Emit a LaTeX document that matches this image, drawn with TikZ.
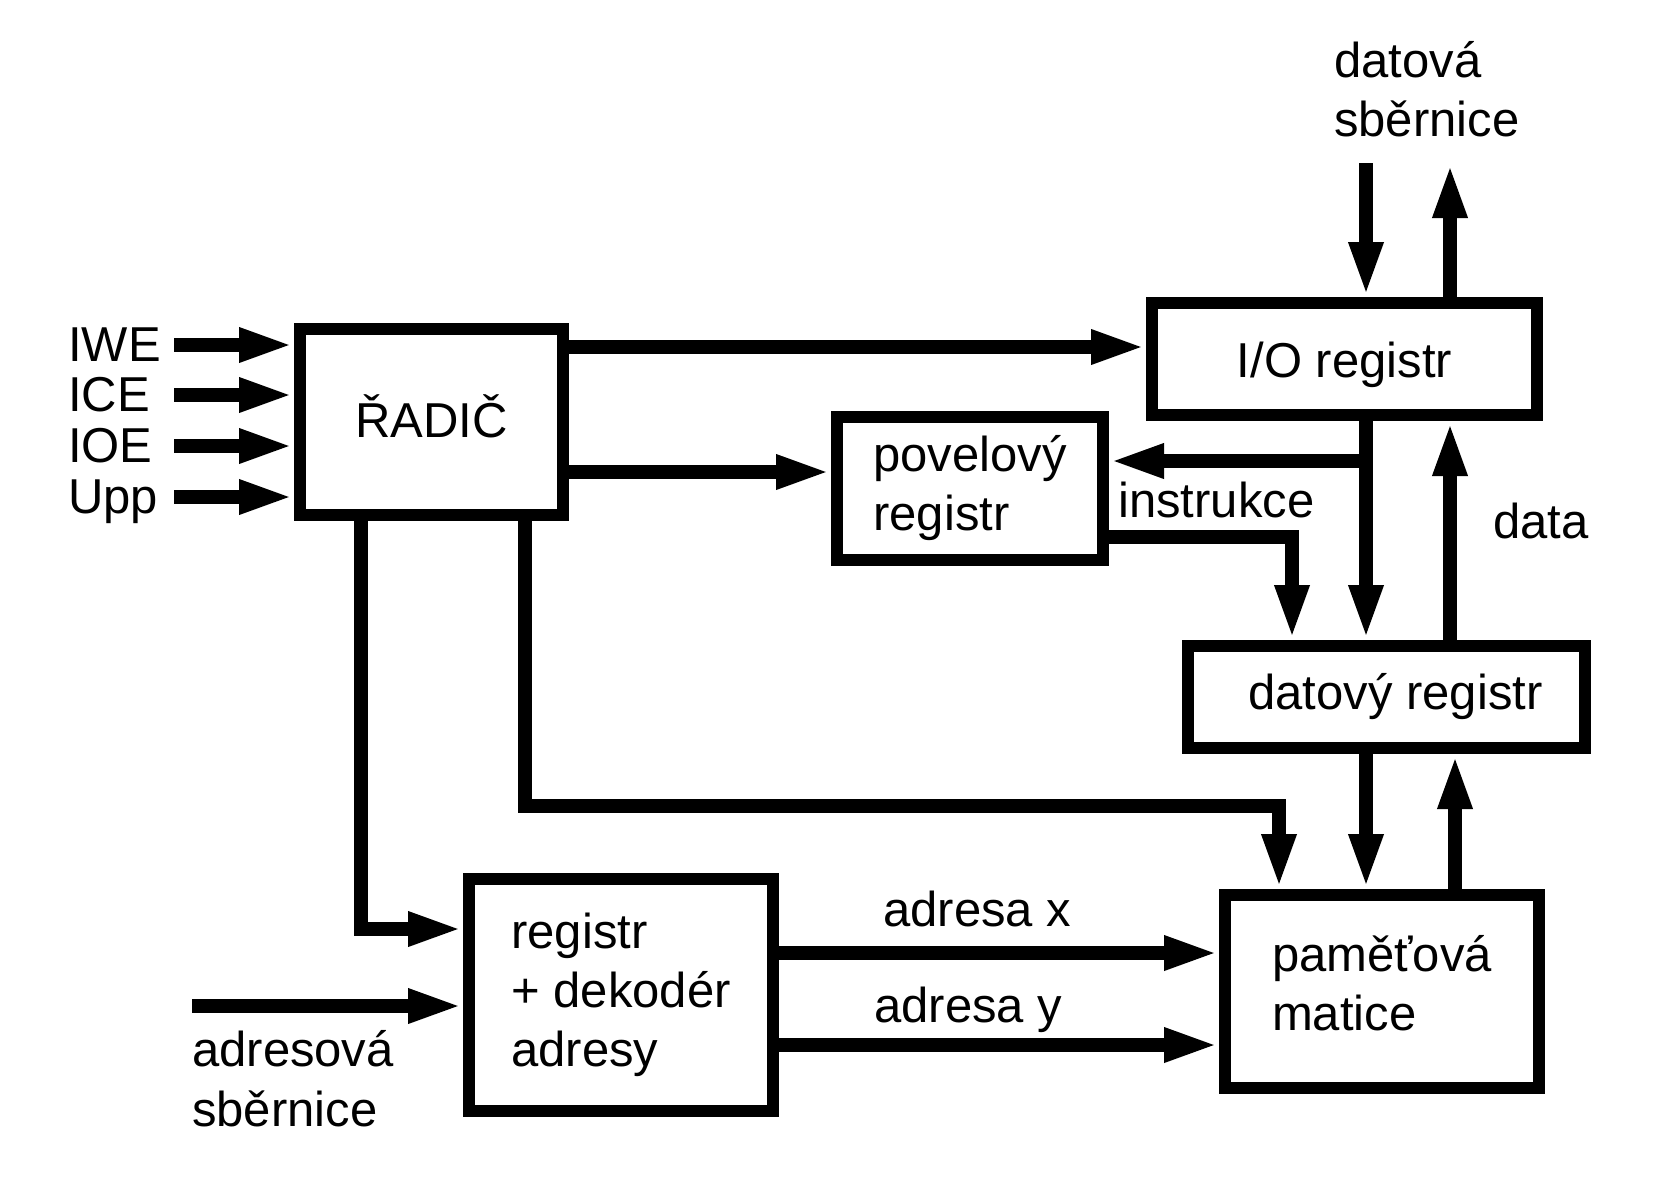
\documentclass[tikz,border=0pt]{standalone}
\usepackage{fontspec}
\setmainfont{Liberation Sans}
\usetikzlibrary{arrows.meta}
\begin{document}
\begin{tikzpicture}[x=1pt,y=-1pt,
  every node/.style={font=\fontsize{49}{59}\selectfont},
  box/.style={draw, line width=12pt, inner sep=0pt},
  arr/.style={line width=14pt,-{Triangle[length=55pt,width=31pt]}},
  lbl/.style={anchor=base west, inner sep=0pt}]
\fill[white] (0,0) rectangle (1653,1181);
\useasboundingbox (0,0) rectangle (1653,1181);

% blocks
\node[box, minimum width=263pt, minimum height=186pt, text height=36pt, text depth=5pt] (radic) at (431.5,422) {ŘADIČ};
\node[box, minimum width=385pt, minimum height=112pt, text height=36pt, text depth=0pt] (io) at (1344.5,359) {I/O registr};
\node[box, minimum width=266pt, minimum height=143pt, align=left] (pov) at (970,488.5) {povelový\\registr};
\node[box, minimum width=397pt, minimum height=102pt] (dat) at (1386.5,697) {\hspace*{18pt}datový registr};
\node[box, minimum width=314pt, minimum height=193pt, align=left] (pam) at (1382,991.5) {paměťová\\matice\strut};
\node[box, minimum width=304pt, minimum height=232pt, align=left] (reg) at (621,995) {registr\\+ dekodér\\adresy};

% helper coordinates
\coordinate (xA) at (1366,0);
\coordinate (xB) at (1450,0);
\coordinate (xC) at (1455,0);
\coordinate (xD) at (1292,0);
\coordinate (xF) at (525,0);
\coordinate (xG) at (361,0);
\coordinate (y1) at (0,347);
\coordinate (y2) at (0,472);
\coordinate (y3) at (0,537);
\coordinate (y4) at (0,929);
\coordinate (y5) at (0,953);
\coordinate (y6) at (0,1045);

% control inputs
\foreach \n/\t/\y in {iwe/IWE/345, ice/ICE/395, ioe/IOE/446, upp/Upp/497} {
  \node[lbl] (l\n) at (68,\y+16) {\t};
  \coordinate (s\n) at (174,\y);
  \draw[arr] (s\n) -- (radic.west |- s\n);
}

% data bus
\node[lbl] (ld1) at (1334,77) {datová};
\node[lbl] (ld2) at (1334,136) {sběrnice};
\coordinate (dbin) at (1366,163);
\coordinate (dbout) at (1450,163);
\draw[arr] (dbin) -- (io.north -| dbin);
\draw[arr] (io.north -| dbout) -- (dbout);

% controller outputs
\draw[arr] (radic.east |- y1) -- (io.west |- y1);
\draw[arr] (radic.east |- y2) -- (pov.west |- y2);

% I/O register to data register and command register
\draw[arr] (io.south -| xA) -- (dat.north -| xA);
\coordinate (br) at (1366,461);
\draw[arr] (br) -- (pov.east |- br);
\node[lbl] (linstr) at (1118,517) {instrukce};

\draw[arr] (pov.east |- y3) -| (dat.north -| xD);

\draw[arr] (dat.north -| xB) -- (io.south -| xB);
\node[lbl] (ldata) at (1493,538) {data};

% data register <-> memory matrix
\draw[arr] (dat.south -| xA) -- (pam.north -| xA);
\draw[arr] (pam.north -| xC) -- (dat.south -| xC);

% controller to memory matrix
\coordinate (c1) at (1279,806);
\draw[arr] (radic.south -| xF) |- (c1) -- (pam.north -| c1);

% controller to address register
\draw[arr] (radic.south -| xG) |- (reg.west |- y4);

% address bus
\coordinate (ab) at (192,1006);
\draw[arr] (ab) -- (reg.west |- ab);
\node[lbl] (la1) at (192,1066) {adresová};
\node[lbl] (la2) at (192,1126) {sběrnice};

% address lines
\draw[arr] (reg.east |- y5) -- (pam.west |- y5);
\draw[arr] (reg.east |- y6) -- (pam.west |- y6);
\node[lbl] (lax) at (883,926) {adresa x};
\node[lbl] (lay) at (874,1022) {adresa y};
\end{tikzpicture}
\end{document}
